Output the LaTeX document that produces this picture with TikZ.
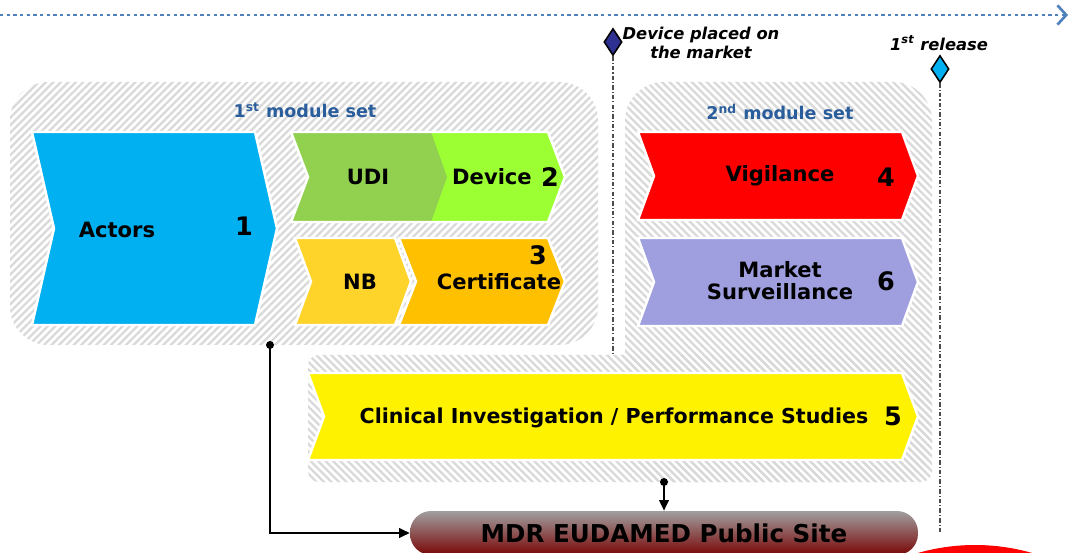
\documentclass[tikz,border=0pt]{standalone}
\usepackage{fontspec}
\setmainfont{DejaVu Sans}
\usetikzlibrary{shapes.geometric, arrows.meta, patterns.meta}

\definecolor{setblue}{HTML}{2A5D9B}
\definecolor{lineblue}{HTML}{4F81BD}
\definecolor{actorblue}{HTML}{00B0F0}
\definecolor{udigreen}{HTML}{92D050}
\definecolor{devgreen}{HTML}{9BFF33}
\definecolor{nbyellow}{HTML}{FFD42A}
\definecolor{certorange}{HTML}{FFC000}
\definecolor{survlilac}{HTML}{9F9FDF}
\definecolor{navy}{HTML}{2E3192}
\definecolor{sitered}{HTML}{7A0606}

\tikzstyle{hatchA} = [pattern={Lines[angle=45, distance=3pt, line width=1.3pt]}, pattern color=gray!30]
\tikzstyle{hatchB} = [pattern={Lines[angle=-45, distance=3pt, line width=1.3pt]}, pattern color=gray!30]
\tikzstyle{modlabel} = [font=\bfseries\fontsize{12}{12.5}\selectfont, align=center, inner sep=0]
\tikzstyle{modnum} = [font=\bfseries\fontsize{14.5}{16}\selectfont, inner sep=0]
\tikzstyle{settitle} = [font=\bfseries\fontsize{10}{12}\selectfont, text=setblue, inner sep=0]
\tikzstyle{milestone} = [diamond, draw=black, line width=0.9pt, minimum width=0.36cm, minimum height=0.54cm, inner sep=0]
\tikzstyle{mstext} = [font=\bfseries\itshape\fontsize{9.3}{10.8}\selectfont, align=center, inner sep=0]
\tikzstyle{guide} = [gray!60!black, line width=0.6pt, dash pattern=on 2.5pt off 1.2pt on 0.6pt off 1.2pt]
\tikzstyle{timeline} = [lineblue, line width=1.5pt, dash pattern=on 1.9pt off 1.9pt, -{Straight Barb[length=5pt, width=11pt, line width=1.5pt]}]
\tikzstyle{arrow} = [line width=0.9pt, -{Triangle[length=6pt, width=5.5pt]}]
\tikzstyle{site} = [rectangle, rounded corners=12pt, minimum width=10.16cm, minimum height=0.88cm, top color=gray!75, bottom color=sitered, font=\bfseries\fontsize{14}{16}\selectfont]

% chevron: style, left, top, right, bottom, pointer depth
\newcommand{\chev}[6]{%
  \pgfmathsetmacro\chevmid{(#3+#5)/2}
  \filldraw[#1] (#2,#3) -- (#4,#3) -- (#4+#6,\chevmid) -- (#4,#5) -- (#2,#5) -- (#2+#6,\chevmid) -- cycle;
}

\begin{document}
\begin{tikzpicture}[x=0.02cm, y=-0.02cm]
  \useasboundingbox (0,0) rectangle (1071,553);
  \fill[white] (0,0) rectangle (1071,553);
  \clip (0,0) rectangle (1071,553);

  % time line and milestones
  \coordinate (tlstart) at (0,15);
  \coordinate (tlend) at (1068,15);
  \draw[timeline] (tlstart) -- (tlend);
  \node[milestone, fill=navy] at (613,42) (ms1) {};
  \node[milestone, fill=actorblue] at (940,69) (ms2) {};
  \node[mstext] at (701,43) (ms1text) {Device placed on\\the market};
  \node[mstext] at (939,43) (ms2text) {1\textsuperscript{st} release};
  \coordinate (ms1end) at (613,355);
  \coordinate (ms2end) at (940,533);
  \draw[guide] (ms1) -- (ms1end);
  \draw[guide] (ms2) -- (ms2end);

  % module sets
  \fill[hatchA, rounded corners=22pt] (10,82) rectangle (598,345);
  \fill[hatchB, rounded corners=22pt] (625,82) rectangle (932,482);
  \fill[hatchB, rounded corners=6pt] (308,355) rectangle (932,482);
  \node[settitle] at (305,110) (set1) {1\textsuperscript{st} module set};
  \node[settitle] at (780,112) (set2) {2\textsuperscript{nd} module set};

  % first module set
  \chev{fill=actorblue, draw=white, line width=1.4pt}{32}{132}{255}{325}{22}
  \chev{fill=devgreen, draw=none}{291}{132}{548}{222}{17}
  \chev{fill=udigreen, draw=none}{291}{132}{431}{222}{16}
  \chev{fill=none, draw=white, line width=1.4pt}{291}{132}{548}{222}{17}
  \chev{fill=nbyellow, draw=white, line width=1.4pt}{295}{238}{395}{325}{16}
  \chev{fill=certorange, draw=white, line width=1.4pt}{399}{238}{548}{325}{17}

  \node[modlabel] at (117,230) (actors) {Actors};
  \node[modnum] at (244,226) (n1) {1};
  \node[modlabel] at (368,177) (udi) {UDI};
  \node[modlabel] at (492,177) (device) {Device};
  \node[modnum] at (550,177) (n2) {2};
  \node[modlabel] at (360,282) (nb) {NB};
  \node[modnum] at (538,255) (n3) {3};
  \node[modlabel] at (499,282) (cert) {Certificate};

  % second module set
  \chev{fill=red, draw=white, line width=1.4pt}{638}{132}{902}{220}{16}
  \chev{fill=survlilac, draw=white, line width=1.4pt}{638}{238}{902}{326}{16}
  \chev{fill=yellow, draw=white, line width=1.4pt}{308}{373}{902}{460}{16}

  \node[modlabel] at (780,176) (vig) {Vigilance};
  \node[modnum] at (886,177) (n4) {4};
  \node[modlabel] at (780,281) (surv) {Market\\Surveillance};
  \node[modnum] at (886,281) (n6) {6};
  \node[modlabel, font=\bfseries\fontsize{11.7}{12.5}\selectfont] at (614,418) (clin) {Clinical Investigation / Performance Studies};
  \node[modnum] at (893,416) (n5) {5};

  % public site
  \node[site] at (664,533) (pubsite) {MDR EUDAMED Public Site};
  \fill[red] (975,752) circle [radius=207];

  \coordinate (tap1) at (270,345);
  \coordinate (tap2) at (664,482);
  \fill (tap1) circle [radius=4];
  \fill (tap2) circle [radius=4];
  \draw[arrow] (tap1) |- (pubsite.west);
  \draw[arrow] (tap2) -- (pubsite.north);
\end{tikzpicture}
\end{document}
